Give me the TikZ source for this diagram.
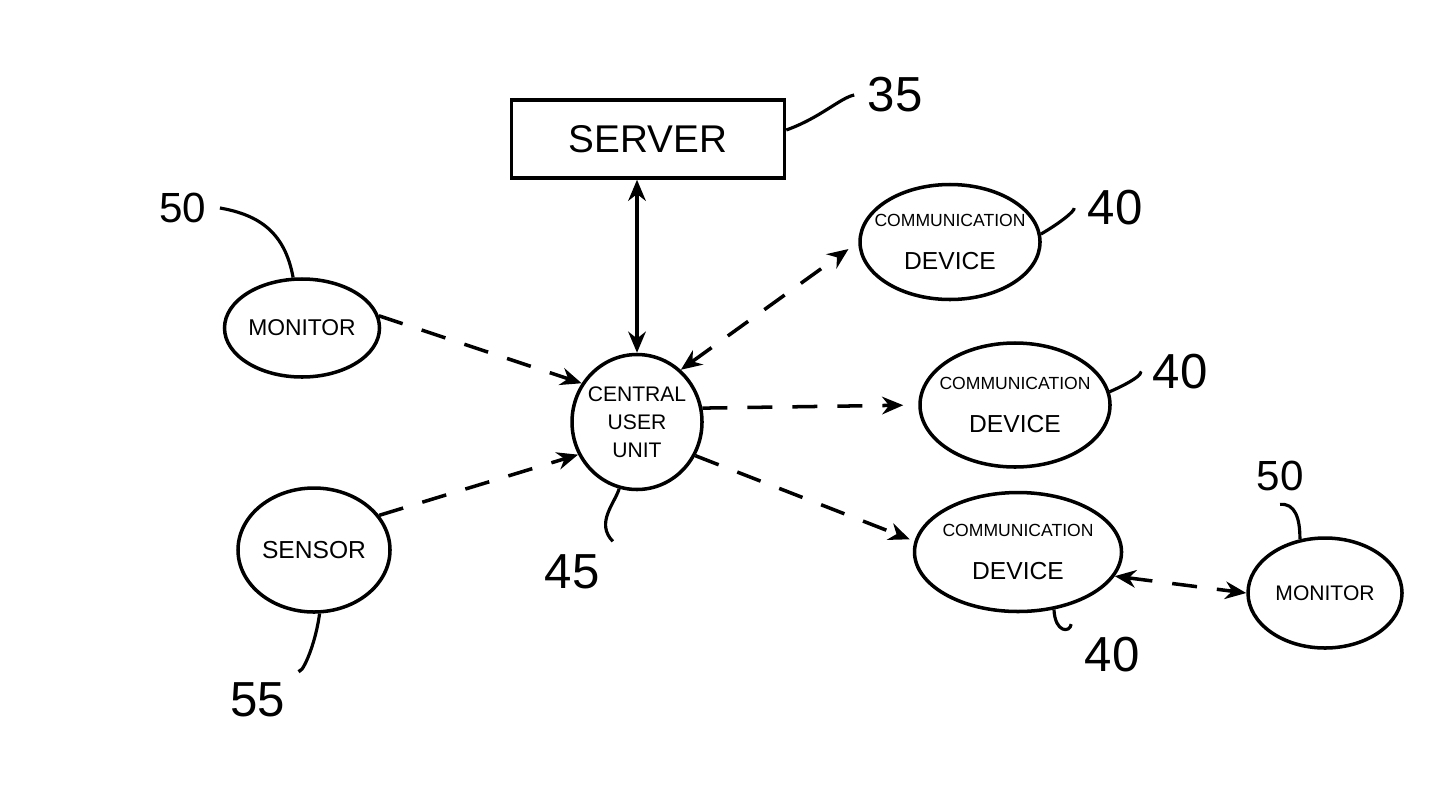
\documentclass[tikz,border=0pt]{standalone}
\usepackage{fontspec}
\setmainfont{Liberation Sans}
\usepackage{tikz}
\usetikzlibrary{arrows.meta,shapes.geometric}

\begin{document}
\begin{tikzpicture}[line width=1pt,>={Stealth[length=6pt,width=5pt]},
    unit/.style={draw,ellipse,inner ysep=0pt,align=center},
    link/.style={dash pattern=on 0.25cm off 0.2cm},
    lead/.style={line width=0.9pt},
    num/.style={font=\fontsize{14}{14}\selectfont}]
      \useasboundingbox (0,0) rectangle (14.56,7.93);

      \node[draw,minimum width=2.73cm,minimum height=0.78cm,font=\fontsize{11}{11}\selectfont] (server) at (6.48,6.54) {SERVER};
      \node[unit,inner xsep=-0.04cm,minimum width=1.30cm,minimum height=1.35cm,font=\fontsize{6}{8}\selectfont] (cuu) at (6.37,3.71) {CENTRAL\\USER\\UNIT};
      \node[unit,inner xsep=0pt,minimum width=1.55cm,minimum height=0.98cm,font=\fontsize{6.5}{8}\selectfont] (monL) at (3.02,4.65) {MONITOR};
      \node[unit,inner xsep=0pt,minimum width=1.52cm,minimum height=1.24cm,font=\fontsize{7}{9}\selectfont] (sensor) at (3.14,2.43) {SENSOR};
      \node[unit,inner xsep=-0.12cm,minimum width=1.80cm,minimum height=1.15cm] (comA) at (9.50,5.51) {{\fontsize{5}{7}\selectfont COMMUNICATION}\\{\fontsize{7}{9}\selectfont DEVICE}};
      \node[unit,inner xsep=-0.12cm,minimum width=1.90cm,minimum height=1.24cm] (comB) at (10.15,3.88) {{\fontsize{5}{7}\selectfont COMMUNICATION}\\{\fontsize{7}{9}\selectfont DEVICE}};
      \node[unit,inner xsep=-0.12cm,minimum width=2.07cm,minimum height=1.19cm] (comC) at (10.18,2.41) {{\fontsize{5}{7}\selectfont COMMUNICATION}\\{\fontsize{7}{9}\selectfont DEVICE}};
      \node[unit,inner xsep=0pt,minimum width=1.54cm,minimum height=1.10cm,font=\fontsize{6}{8}\selectfont] (monR) at (13.25,2.00) {MONITOR};

      \node[num] (n35) at (8.95,6.98) {35};
      \node[num,font=\fontsize{12}{12}\selectfont] (n50a) at (1.83,5.85) {50};
      \node[num] (n55) at (2.58,0.93) {55};
      \node[num] (n45) at (5.72,2.21) {45};
      \node[num] (n40a) at (11.15,5.85) {40};
      \node[num] (n40b) at (11.80,4.21) {40};
      \node[num] (n40c) at (11.12,1.38) {40};
      \node[num,font=\fontsize{12}{12}\selectfont] (n50b) at (12.80,3.17) {50};

      \draw[<->] (cuu.north) -- (cuu.north |- server.south);
      \draw[link,->] (monL.9) -- (cuu.145);
      \draw[link,->] (sensor.28) -- (cuu.209);
      \draw[link,<->,shorten >=0.12cm] (cuu.50) -- (comA.180);
      \draw[link,->,shorten >=0.15cm] (cuu.12) -- (comB.180);
      \draw[link,->,shorten >=0.05cm] (cuu.-30) -- (comC.174);
      \draw[link,<->] (comC.-14) -- (monR.180);

      \draw[lead] (server.east |- 0,6.63) .. controls (8.2,6.75) and (8.4,6.95) .. (n35.west);
      \draw[lead] (n50a.east) .. controls (2.6,5.78) and (2.85,5.6) .. (monL.100);
      \draw[lead] (sensor.-85) .. controls (3.15,1.45) and (3.0,1.15) .. (n55.north east);
      \draw[lead] (cuu.-105) .. controls (6.15,2.9) and (5.95,2.7) .. (n45.north east);
      \draw[lead] (comA.5) .. controls (10.6,5.7) and (10.75,5.82) .. (n40a.west);
      \draw[lead] (comB.8) .. controls (11.3,4.1) and (11.45,4.2) .. (n40b.west);
      \draw[lead] (comC.-58) .. controls (10.55,1.6) and (10.7,1.6) .. (n40c.north west);
      \draw[lead] (n50b.south) .. controls (12.95,2.9) and (13.0,2.75) .. (monR.115);
\end{tikzpicture}
\end{document}
